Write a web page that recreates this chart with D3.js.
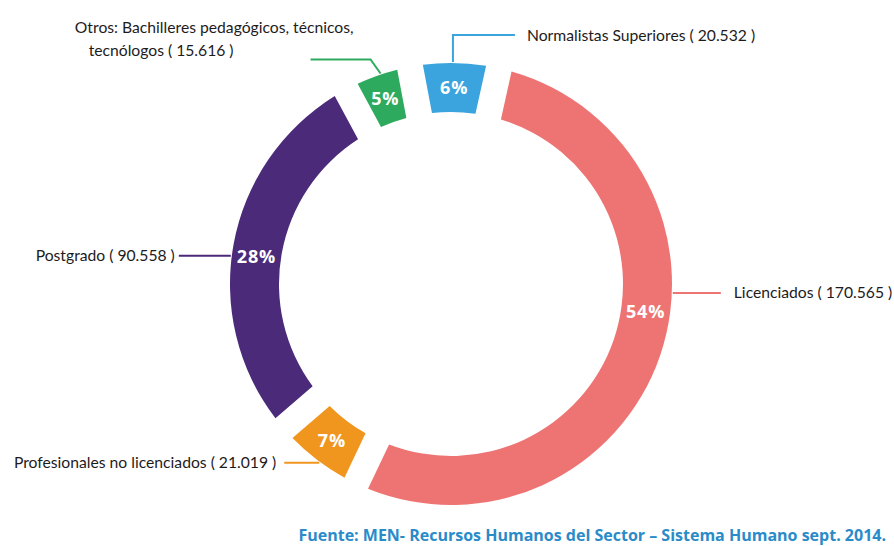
<!DOCTYPE html>
<html lang="es">
<head>
  <meta charset="UTF-8">
  <title>Docentes por nivel de formación</title>
  <style>
  body {
    margin: 0;
    background: #fff;
  }
  .label {
    font: 15.7px Lato, "Noto Sans", sans-serif;
    fill: #1e1b1c;
  }
  .pct {
    font: bold 18px "Open Sans", sans-serif;
    fill: #fff;
    letter-spacing: 0.8px;
    text-anchor: middle;
  }
  .fuente {
    font: bold 16px "Open Sans", sans-serif;
    fill: #2a8bc9;
    text-anchor: end;
  }
  </style>
</head>
<body>
<svg width="894" height="546"></svg>
<script src="https://cdnjs.cloudflare.com/ajax/libs/d3/7.8.5/d3.min.js"></script>
<script>
// data, clockwise from the top
var categories = ["Normalistas Superiores", "Licenciados", "Profesionales no licenciados", "Postgrado", "Otros: Bachilleres pedagógicos, técnicos, tecnólogos"];
var labelLines = [["Normalistas Superiores"], ["Licenciados"], ["Profesionales no licenciados"], ["Postgrado"], ["Otros: Bachilleres pedagógicos, técnicos,", "tecnólogos"]];
var values = [20532, 170565, 21019, 90558, 15616];
var colors = ["#3ba3dd", "#ee7473", "#f0961f", "#4b2a7a", "#2eaa5e"];
var source = "Fuente: MEN- Recursos Humanos del Sector – Sistema Humano sept. 2014.";

var svg = d3.select("svg"),
    cx = 451, cy = 284,
    outer = 221, inner = 172,
    deg = Math.PI / 180;

var g = svg.append("g").attr("transform", "translate(" + cx + "," + cy + ")");

var es = d3.formatLocale({decimal: ",", thousands: ".", grouping: [3], currency: ["", ""]});
var fmt = es.format(",d");
var total = d3.sum(values);

// full proportional angles; the gaps are cut out by the arc itself
var pie = d3.pie()
    .sort(null)
    .startAngle(-10.7 * deg)
    .endAngle(349.3 * deg);

var arc = d3.arc()
    .innerRadius(inner)
    .outerRadius(outer)
    .padRadius(outer)
    .padAngle(0.118);

var arcs = pie(values);

function polar(a, r) {
  return [r * Math.sin(a * deg), -r * Math.cos(a * deg)];
}

// leader lines: anchor angle on the outer edge, route, where the text sits
var leaders = [
  {a: 0.5, route: function(p) { return [p, [p[0], p[1] - 27], [p[0] + 62, p[1] - 27]]; }, anchor: "start", dx: 12},
  {a: 92.3, route: function(p) { return [p, [p[0] + 48, p[1]]]; }, anchor: "start", dx: 13, pctAngle: 98},
  {a: 216.4, route: function(p) { return [p, [p[0] - 35, p[1]]]; }, anchor: "end", dx: -8},
  {a: 277.3, route: function(p) { return [p, [p[0] - 52, p[1]]]; }, anchor: "end", dx: -4, pctAngle: 278},
  {a: 341.5, route: function(p) { return [p, [p[0] - 10, p[1] - 14], [p[0] - 70, p[1] - 14]]; }, anchor: "end", dx: -77, lines: [[43, -26], [-77, -3]]}
];

g.selectAll("path.slice")
  .data(arcs)
  .join("path")
    .attr("class", "slice")
    .attr("d", arc)
    .attr("fill", function(d, i) { return colors[i]; });

var line = d3.line();

g.selectAll("path.leader")
  .data(arcs)
  .join("path")
    .attr("class", "leader")
    .attr("d", function(d, i) { return line(leaders[i].route(polar(leaders[i].a, outer + 1))); })
    .attr("fill", "none")
    .attr("stroke", function(d, i) { return colors[i]; })
    .attr("stroke-width", 2);

// category labels
arcs.forEach(function(d, i) {
  var L = leaders[i],
      pts = L.route(polar(L.a, outer + 1)),
      end = pts[pts.length - 1],
      lines = labelLines[i].slice();
  lines[lines.length - 1] += " ( " + fmt(values[i]) + " )";
  if (L.lines) {
    lines.forEach(function(t, k) {
      g.append("text")
        .attr("class", "label")
        .attr("text-anchor", "end")
        .attr("x", end[0] + L.lines[k][0])
        .attr("y", end[1] + L.lines[k][1])
        .text(t);
    });
  } else {
    g.append("text")
      .attr("class", "label")
      .attr("text-anchor", L.anchor)
      .attr("x", end[0] + L.dx)
      .attr("y", end[1])
      .attr("dy", "0.35em")
      .text(lines[0]);
  }
});

// percentages inside the ring
g.selectAll("text.pct")
  .data(arcs)
  .join("text")
    .attr("class", "pct")
    .attr("transform", function(d, i) {
      var p = leaders[i].pctAngle != null
        ? polar(leaders[i].pctAngle, (inner + outer) / 2)
        : arc.centroid(d);
      return "translate(" + p + ")";
    })
    .attr("dy", "0.36em")
    .text(function(d) { return Math.round(d.value / total * 100) + "%"; });

svg.append("text")
  .attr("class", "fuente")
  .attr("x", 886)
  .attr("y", 541)
  .text(source);
</script>
</body>
</html>
